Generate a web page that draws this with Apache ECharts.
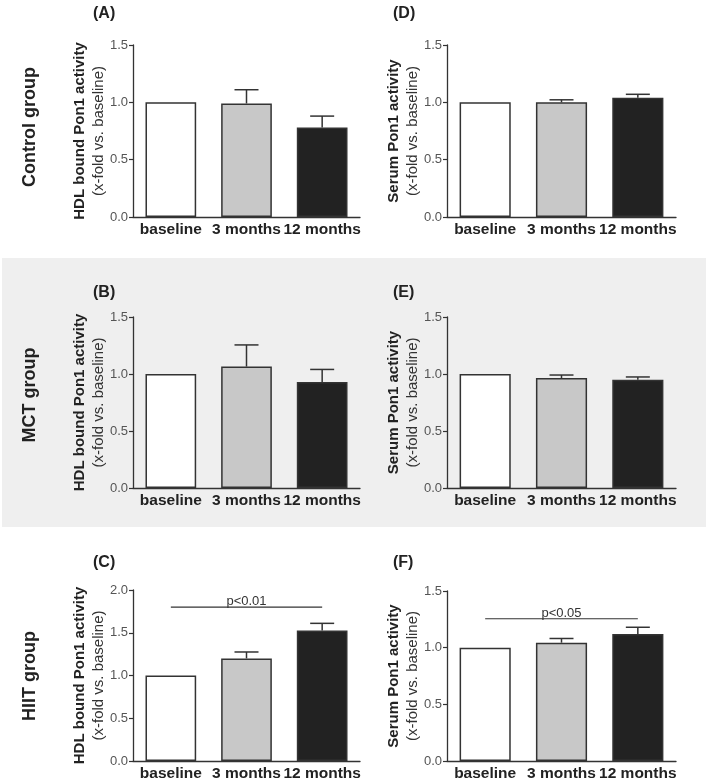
<!DOCTYPE html>
<html>
<head>
<meta charset="utf-8">
<script src="https://cdn.jsdelivr.net/npm/echarts@6/dist/echarts.min.js"></script>
<style>
html,body{margin:0;padding:0;background:#fff;}
#chart{width:709px;height:782px;}
</style>
</head>
<body>
<div id="chart"></div>
<script>
// ---- data ----
var categories = ['baseline', '3 months', '12 months'];
var rowLabels = ['Control group', 'MCT group', 'HIIT group'];
var panelLabels = ['(A)', '(B)', '(C)', '(D)', '(E)', '(F)'];
var hdlTitle = 'HDL bound Pon1 activity';
var serumTitle = 'Serum Pon1 activity';
var subTitle = '(x-fold vs. baseline)';

var hdlControl = [1.0, 0.99, 0.78];
var hdlControlErr = [0, 0.12, 0.10];
var hdlMCT = [1.0, 1.065, 0.93];
var hdlMCTErr = [0, 0.19, 0.11];
var hdlHIIT = [1.0, 1.20, 1.525];
var hdlHIITErr = [0, 0.075, 0.085];

var serumControl = [1.0, 1.0, 1.04];
var serumControlErr = [0, 0.022, 0.03];
var serumMCT = [1.0, 0.965, 0.95];
var serumMCTErr = [0, 0.026, 0.024];
var serumHIIT = [1.0, 1.044, 1.12];
var serumHIITErr = [0, 0.037, 0.06];

var yMaxes = [1.5, 1.5, 2.0, 1.5, 1.5, 1.5];
var sigHIITHdl = {from: 0, to: 2, level: 1.8, text: 'p<0.01'};
var sigHIITSerum = {from: 0, to: 2, level: 1.255, text: 'p<0.05'};

// ---- layout/styles ----
var FONT = '"Liberation Sans", Arial, sans-serif';
var barColors = ['#ffffff', '#c8c8c8', '#222222'];
var grids = [
  {left: 133, top: 45, width: 227, height: 172},
  {left: 133, top: 317, width: 227, height: 171},
  {left: 133, top: 590, width: 227, height: 172},
  {left: 447, top: 45, width: 229, height: 172},
  {left: 447, top: 317, width: 229, height: 171},
  {left: 447, top: 591, width: 229, height: 171}
];
var panels = [
  {vals: hdlControl, errs: hdlControlErr, title: hdlTitle},
  {vals: hdlMCT, errs: hdlMCTErr, title: hdlTitle},
  {vals: hdlHIIT, errs: hdlHIITErr, title: hdlTitle, sig: sigHIITHdl},
  {vals: serumControl, errs: serumControlErr, title: serumTitle},
  {vals: serumMCT, errs: serumMCTErr, title: serumTitle},
  {vals: serumHIIT, errs: serumHIITErr, title: serumTitle, sig: sigHIITSerum}
];

var xAxes = [], yAxes = [], series = [];
panels.forEach(function (p, i) {
  xAxes.push({
    gridIndex: i, type: 'category', data: categories,
    axisLine: {lineStyle: {color: '#333', width: 1.3}},
    axisTick: {show: false},
    axisLabel: {fontFamily: FONT, fontWeight: 'bold', fontSize: 15.5, color: '#222', margin: 5, interval: 0}
  });
  yAxes.push({
    gridIndex: i, type: 'value', min: 0, max: yMaxes[i], interval: 0.5,
    splitLine: {show: false},
    axisLine: {show: true, lineStyle: {color: '#333', width: 1.3}},
    axisTick: {show: true, length: 4, lineStyle: {color: '#333', width: 1.2}},
    axisLabel: {fontFamily: FONT, fontSize: 13, color: '#555', margin: 5,
      formatter: function (v) { return v.toFixed(1); }},
    name: '{a|' + p.title + '}\n{b|' + subTitle + '}',
    nameLocation: 'middle', nameGap: 23,
    nameTextStyle: {
      rich: {
        a: {fontFamily: FONT, fontWeight: 'bold', fontSize: 15, color: '#222', lineHeight: 19},
        b: {fontFamily: FONT, fontSize: 15, color: '#333', lineHeight: 19}
      }
    }
  });
  series.push({
    type: 'bar', xAxisIndex: i, yAxisIndex: i, barWidth: '67%',
    data: p.vals.map(function (v, k) {
      return {value: v, itemStyle: {color: barColors[k], borderColor: '#333', borderWidth: 1.5}};
    }),
    silent: true, animation: false
  });
  series.push({
    type: 'custom', xAxisIndex: i, yAxisIndex: i, z: 5, animation: false, silent: true,
    data: p.vals.map(function (v, k) { return [k, v, p.errs[k]]; }),
    renderItem: function (params, api) {
      var e = api.value(2);
      if (!e) return null;
      var x = api.value(0), v = api.value(1);
      var p0 = api.coord([x, v]);
      var p1 = api.coord([x, v + e]);
      var st = {stroke: '#333', lineWidth: 1.5};
      return {type: 'group', children: [
        {type: 'line', shape: {x1: p0[0], y1: p0[1], x2: p1[0], y2: p1[1]}, style: st},
        {type: 'line', shape: {x1: p1[0] - 12, y1: p1[1], x2: p1[0] + 12, y2: p1[1]}, style: st}
      ]};
    }
  });
  if (p.sig) {
    var s = p.sig;
    series.push({
      type: 'custom', xAxisIndex: i, yAxisIndex: i, z: 6, animation: false, silent: true,
      data: [[s.from, s.to, s.level]],
      renderItem: function (params, api) {
        var a = api.coord([api.value(0), api.value(2)]);
        var b = api.coord([api.value(1), api.value(2)]);
        return {type: 'group', children: [
          {type: 'line', shape: {x1: a[0], y1: a[1], x2: b[0], y2: b[1]}, style: {stroke: '#333', lineWidth: 1.2}},
          {type: 'text', x: (a[0] + b[0]) / 2, y: a[1] + 1,
            style: {text: s.text, fontFamily: FONT, fontSize: 13, fill: '#333', align: 'center', verticalAlign: 'bottom'}}
        ]};
      }
    });
  }
});

var graphics = [
  {type: 'rect', z: -10, shape: {x: 2, y: 258, width: 704, height: 269}, style: {fill: '#efefef'}}
];
var rowCenters = [127, 395, 676];
rowLabels.forEach(function (t, r) {
  graphics.push({type: 'text', x: 30, y: rowCenters[r], rotation: Math.PI / 2,
    style: {text: t, fontFamily: FONT, fontWeight: 'bold', fontSize: 18, fill: '#222', align: 'center', verticalAlign: 'middle'}});
});
var panelPos = [[93, 14], [93, 293], [93, 563], [393, 14], [393, 293], [393, 563]];
panelLabels.forEach(function (t, k) {
  graphics.push({type: 'text', x: panelPos[k][0], y: panelPos[k][1],
    style: {text: t, fontFamily: FONT, fontWeight: 'bold', fontSize: 16, fill: '#222', align: 'left', verticalAlign: 'middle'}});
});

var chart = echarts.init(document.getElementById('chart'), null, {renderer: 'canvas'});
chart.setOption({
  animation: false,
  grid: grids,
  xAxis: xAxes,
  yAxis: yAxes,
  series: series,
  graphic: graphics
});
</script>
</body>
</html>
